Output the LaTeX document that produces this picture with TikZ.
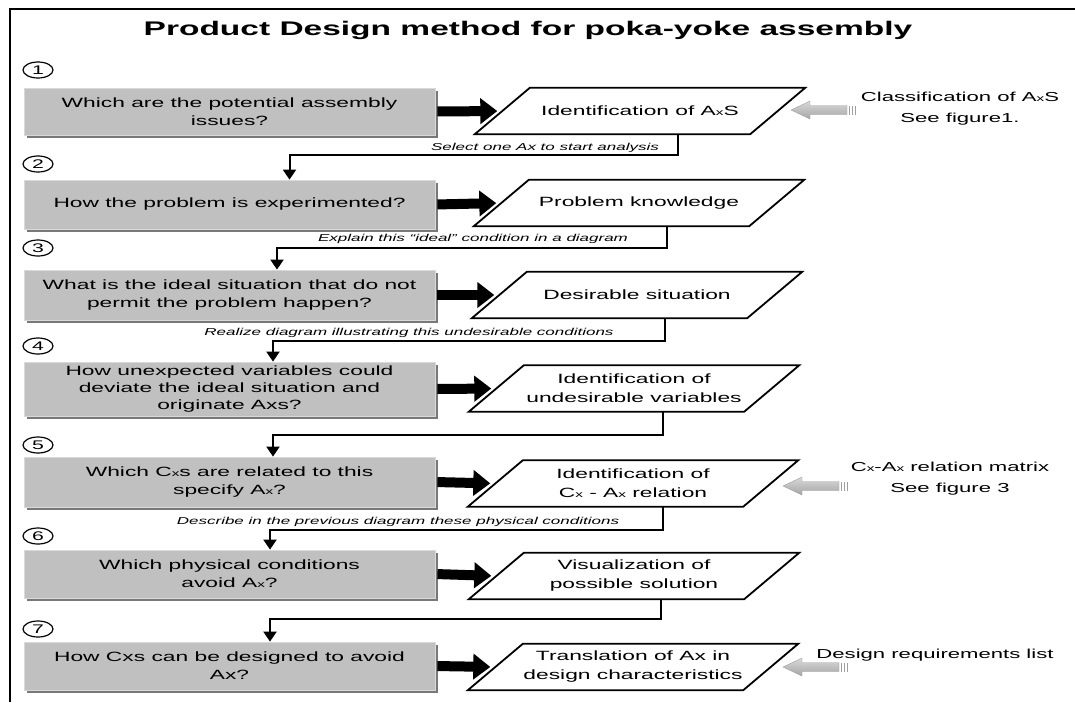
\documentclass[tikz,border=0pt]{standalone}
\usepackage{fontspec}
\setmainfont[FakeStretch=1.7]{Liberation Sans}
\usetikzlibrary{arrows.meta,shadows,calc,shapes.geometric}
\definecolor{boxgray}{RGB}{192,192,192}
\definecolor{shgray}{RGB}{120,120,120}
\newcommand\sx{{\fontsize{9}{9}\selectfont x}}
\newcommand\grayarr[2]{%
  \shade[top color=gray!30, bottom color=gray!70, draw=gray!75, line width=0.4pt]
    (#1,#2) -- ++(19,-9) -- ++(0,4.5) -- ++(37,0) -- ++(0,9) -- ++(-37,0) -- ++(0,4.5) -- cycle;
  \foreach \dx in {58,61,64} \draw[gray!75, line width=1pt] ($(#1,#2)+(\dx,-4.5)$) -- ++(0,9);
}
\begin{document}
\begin{tikzpicture}[x=1pt,y=-1pt,
  qbox/.style={fill=boxgray, draw=gray!30, line width=0.8pt, minimum width=411pt, align=center, inner sep=0pt,
    font=\fontsize{13.4}{18}\selectfont,
    drop shadow={shadow xshift=3pt,shadow yshift=-3pt,fill=shgray,draw=none,opacity=1}},
  pnode/.style={minimum width=275pt, minimum height=46pt, align=center, inner sep=0pt,
    font=\fontsize{13.4}{19}\selectfont},
  pgline/.style={line width=1.8pt, line join=miter},
  num/.style={ellipse, draw, line width=1.2pt, minimum width=30pt, minimum height=16pt,
    inner sep=0pt, font=\fontsize{12.5}{12.5}\selectfont},
  bigarrow/.style={line width=10pt, -{Triangle[length=17pt,width=25pt]}, shorten >=5pt, shorten <=2pt},
  conn/.style={line width=2pt, -{Triangle[length=10pt,width=13pt]}},
  lbl/.style={font=\itshape\fontsize{10}{12}\selectfont, inner sep=0pt},
  side/.style={align=center, font=\fontsize{13}{21}\selectfont, inner sep=0pt}
]
\useasboundingbox (0,0) rectangle (1075,702);
\draw[line width=2pt] (9.5,702) -- (9.5,8.5) -- (1075,8.5);

\node[font=\bfseries\fontsize{19.7}{24}\selectfont] (title) at (528,30.5) {Product Design method for poka-yoke assembly};

% numbers
\node[num] (e1) at (38,70) {1};
\node[num] (e2) at (38,164) {2};
\node[num] (e3) at (38,248) {3};
\node[num] (e4) at (38,346) {4};
\node[num] (e5) at (38,445) {5};
\node[num] (e6) at (38,536) {6};
\node[num] (e7) at (38,629) {7};

% question boxes
\node[qbox, minimum height=47pt] (b1) at (229.5,111.5) {Which are the potential assembly\\issues?};
\node[qbox, minimum height=49pt] (b2) at (229.5,204.5) {How the problem is experimented?};
\node[qbox, minimum height=50pt] (b3) at (229.5,295) {What is the ideal situation that do not\\permit the problem happen?};
\node[qbox, minimum height=54pt, font=\fontsize{13.4}{17}\selectfont] (b4) at (229.5,389) {How unexpected variables could\\deviate the ideal situation and\\originate Axs?};
\node[qbox, minimum height=50pt] (b5) at (229.5,482) {Which C\sx s are related to this\\specify A\sx?};
\node[qbox, minimum height=48pt] (b6) at (229.5,574) {Which physical conditions\\avoid A\sx?};
\node[qbox, minimum height=48pt] (b7) at (229.5,666) {How Cxs can be designed to avoid\\Ax?};

% parallelogram nodes
\node[pnode] (p1) at (640,111) {Identification of A\sx S};
\node[pnode] (p2) at (639,203) {Problem knowledge};
\node[pnode] (p3) at (637,295) {Desirable situation};
\node[pnode] (p4) at (634,388.5) {Identification of\\undesirable variables};
\node[pnode] (p5) at (633,483.5) {Identification of\\C\sx{} - A\sx{} relation};
\node[pnode] (p6) at (634,576) {Visualization of\\possible solution};
\node[pnode] (p7) at (633,667) {Translation of Ax in\\design characteristics};
\foreach \p in {p1,p2,p3,p4,p5,p6,p7}
  \draw[pgline] ($(\p.north west)+(27.5,0)$) -- ($(\p.north east)+(27.5,0)$)
    -- ($(\p.south east)+(-27.5,0)$) -- ($(\p.south west)+(-27.5,0)$) -- cycle;

% thick arrows
\foreach \i in {1,...,7} \draw[bigarrow] (b\i.east) -- (p\i.west);

% connectors
\draw[conn] ($(p1.south)+(38,0)$) -- ++(0,21) -| ($(b2.north)+(60,0)$);
\draw[conn] ($(p2.south)+(28,0)$) -- ++(0,22) -| ($(b3.north)+(47.5,0)$);
\draw[conn] ($(p3.south)+(28,0)$) -- ++(0,23) -| ($(b4.north)+(43.5,0)$);
\draw[conn] ($(p4.south)+(29,0)$) -- ++(0,23) -| ($(b5.north)+(43.5,0)$);
\draw[conn] ($(p5.south)+(30,0)$) -- ++(0,23) -| ($(b6.north)+(40.5,0)$);
\draw[conn] ($(p6.south)+(27,0)$) -- ++(0,20) -| ($(b7.north)+(40.5,0)$);

% connector labels
\node[lbl] (l1) at (545,148) {Select one Ax to start analysis};
\node[lbl] (l2) at (473,239) {Explain this “ideal” condition in a diagram};
\node[lbl] (l3) at (409,333) {Realize diagram illustrating this undesirable conditions};
\node[lbl] (l5) at (398,522) {Describe in the previous diagram these physical conditions};

% side notes
\node[side] (r1) at (960,109) {Classification of A\sx S\\See figure1.};
\node[side] (r5) at (950,479) {C\sx-A\sx{} relation matrix\\See figure 3};
\node[side] (r7) at (935,655) {Design requirements list};
\grayarr{791}{110}
\grayarr{783}{486}
\grayarr{783}{667}
\end{tikzpicture}
\end{document}
